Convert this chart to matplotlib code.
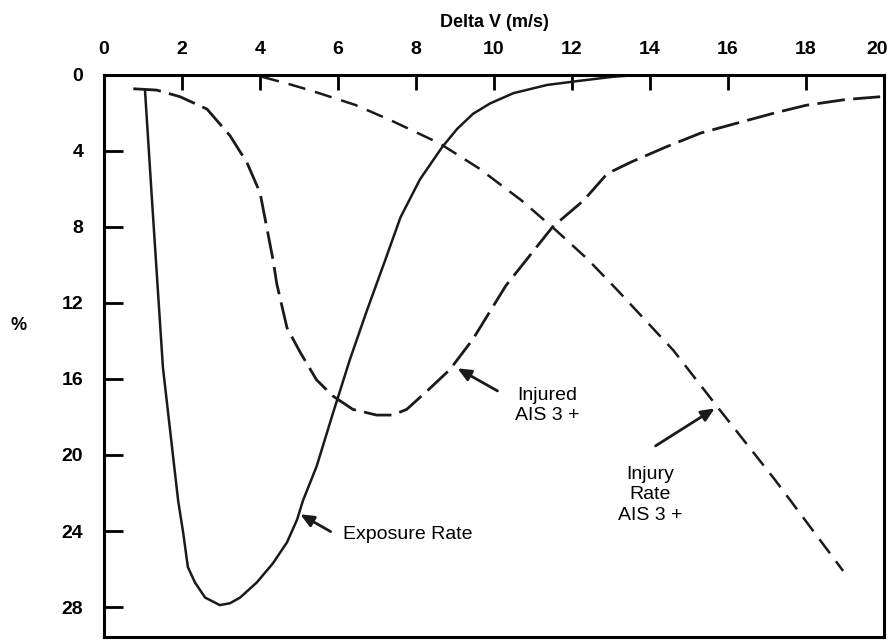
import matplotlib.pyplot as plt
import matplotlib.transforms as mtransforms

plt.rcParams['font.family'] = ['Liberation Sans', 'DejaVu Sans']

# Exposure Rate (solid)
exposure_x = [1.05, 1.23, 1.51, 1.90, 2.03, 2.15, 2.33, 2.59, 2.97, 3.23, 3.49, 3.92, 4.33,
              4.69, 4.95, 5.1, 5.45, 5.87, 6.3, 6.74, 7.2, 7.6, 8.1, 8.67, 9.05, 9.46, 9.9,
              10.5, 11.36, 12.2, 13.05, 13.7, 14.5]
exposure_y = [0.8, 6.6, 15.4, 22.4, 24.1, 25.9, 26.7, 27.5, 27.9, 27.8, 27.5, 26.7, 25.7,
              24.6, 23.4, 22.4, 20.6, 17.8, 15.0, 12.4, 9.8, 7.5, 5.5, 3.8, 2.85, 2.05, 1.5,
              0.96, 0.53, 0.31, 0.1, 0.0, 0.0]

# Injured AIS 3+ (long dashes)
injured_x = [0.75, 1.35, 1.95, 2.64, 3.23, 3.66, 4.0, 4.33, 4.43, 4.69, 5.03, 5.45, 5.87, 6.38,
             6.99, 7.4, 7.76, 8.3, 8.87, 9.46, 10.3, 11.5, 12.3, 12.9, 13.5, 14.4, 15.3, 16.3,
             17.2, 18.0, 19.0, 19.9]
injured_y = [0.73, 0.8, 1.15, 1.8, 3.2, 4.6, 6.2, 9.7, 11.0, 13.3, 14.6, 16.05, 16.9, 17.6,
             17.9, 17.9, 17.6, 16.6, 15.5, 13.9, 11.1, 8.0, 6.6, 5.2, 4.6, 3.8, 3.06, 2.5,
             2.0, 1.6, 1.3, 1.15]

# Injury Rate AIS 3+ (dashed)
rate_x = [4.05, 4.77, 5.33, 6.44, 7.33, 8.6, 9.6, 10.7, 11.6, 12.4, 13.15, 14.6, 15.7, 17.2,
          18.95]
rate_y = [0.1, 0.5, 0.84, 1.58, 2.37, 3.6, 4.9, 6.6, 8.2, 9.7, 11.3, 14.5, 17.4, 21.3, 26.1]

x_ticks = [0, 2, 4, 6, 8, 10, 12, 14, 16, 18, 20]
y_ticks = [0, 4, 8, 12, 16, 20, 24, 28]

fig = plt.figure(figsize=(8.93, 6.4), dpi=100)
ax = fig.add_axes([0.1165, 0.004, 0.8735, 0.879])

ax.plot(exposure_x, exposure_y, color='#1a1a1a', lw=1.8)
ax.plot(injured_x, injured_y, color='#1a1a1a', lw=2.0, dashes=(10, 3))
ax.plot(rate_x, rate_y, color='#1a1a1a', lw=1.8, dashes=(7, 4))

ax.set_xlim(0, 20)
ax.set_ylim(29.6, 0)
ax.set_xticks(x_ticks)
ax.set_yticks(y_ticks)
ax.xaxis.tick_top()
ax.tick_params(axis='x', direction='in', length=11, width=2, pad=12,
               labelsize=14, top=True, bottom=False)
ax.tick_params(axis='y', direction='in', length=14, width=2, pad=15, labelsize=14)
for lab in ax.get_xticklabels() + ax.get_yticklabels():
    lab.set_fontweight('bold')
# the last x label sits a bit left of its tick, as in the original
last = ax.get_xticklabels()[-1]
last.set_transform(last.get_transform() +
                   mtransforms.ScaledTranslation(-7 / 100, 0, fig.dpi_scale_trans))
for sp in ax.spines.values():
    sp.set_linewidth(2.2)

ax.xaxis.set_label_position('top')
ax.set_xlabel("Delta V (m/s)", fontsize=13, fontweight='bold', labelpad=10)
ax.set_ylabel("%", fontsize=13, fontweight='bold', rotation=0)
ax.yaxis.set_label_coords(-0.11, 0.54)

arrow = dict(arrowstyle='-|>,head_length=0.8,head_width=0.35', color='#1a1a1a', lw=2)
ax.annotate('', xy=(4.97, 23.05), xytext=(5.87, 24.1), arrowprops=arrow)
ax.text(6.13, 24.2, "Exposure Rate", fontsize=14, va='center', ha='left')

ax.annotate('', xy=(9.0, 15.37), xytext=(10.15, 16.7), arrowprops=arrow)
ax.text(11.36, 17.4, "Injured\nAIS 3 +", fontsize=14, va='center', ha='center',
        linespacing=1.25)

ax.annotate('', xy=(15.72, 17.47), xytext=(14.08, 19.6), arrowprops=arrow)
ax.text(14.0, 22.1, "Injury\nRate\nAIS 3 +", fontsize=14, va='center', ha='center',
        linespacing=1.25)

plt.savefig("out.png", dpi=100)
